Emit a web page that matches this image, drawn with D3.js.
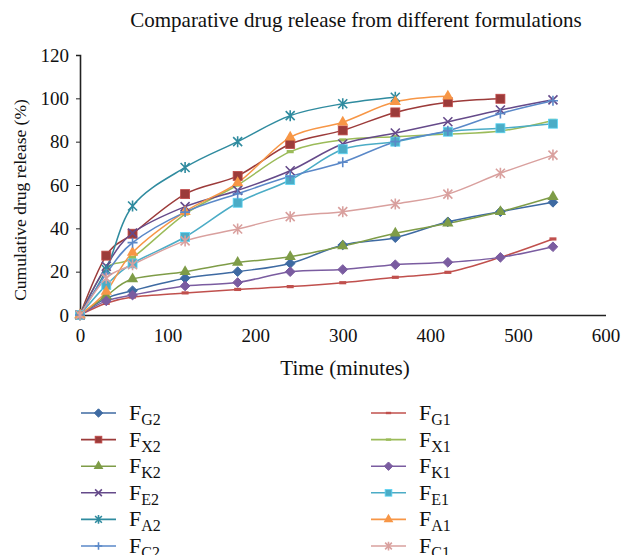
<!DOCTYPE html>
<html>
<head>
<meta charset="utf-8">
<script src="https://cdn.jsdelivr.net/npm/d3@7"></script>
<style>
  body { margin: 0; background: #fff; }
  svg, svg text { font-family: "Liberation Serif", "Times New Roman", serif; }
</style>
</head>
<body>
<div id="chart"></div>
<script>
// time points (minutes)
const times = [0, 30, 60, 120, 180, 240, 300, 360, 420, 480, 540];

// cumulative release (%) per formulation
const FG2 = [0, 7.7, 11.2, 17.0, 20.0, 23.8, 32.3, 35.7, 43.0, 47.7, 52.0];
const FG1 = [0, 5.4, 8.3, 10.2, 11.8, 13.1, 14.9, 17.4, 19.7, 26.6, 35.1];
const FX2 = [0, 27.4, 37.5, 55.8, 64.2, 78.9, 85.2, 93.5, 98.2, 99.8];
const FX1 = [0, 21.3, 26.5, 46.6, 60.0, 75.4, 80.8, 82.3, 83.5, 84.9, 89.8];
const FK2 = [0, 8.8, 16.6, 20.0, 24.2, 26.9, 31.8, 37.7, 42.3, 47.7, 54.6];
const FK1 = [0, 6.5, 9.2, 13.4, 15.0, 20.0, 21.0, 23.2, 24.3, 26.6, 31.5];
const FE2 = [0, 22.5, 37.8, 50.0, 57.5, 66.6, 78.9, 84.0, 89.2, 94.6, 99.3];
const FE1 = [0, 13.8, 23.8, 36.0, 51.8, 62.3, 76.5, 80.0, 84.6, 86.2, 88.3];
const FA2 = [0, 21.0, 50.3, 68.1, 80.0, 92.0, 97.5, 100.5];
const FA1 = [0, 10.8, 28.8, 47.7, 61.0, 82.0, 89.0, 98.4, 101.0];
const FC2 = [0, 19.0, 33.4, 47.5, 56.0, 64.0, 70.5, 80.0, 85.0, 93.0, 98.9];
const FC1 = [0, 17.0, 23.2, 34.2, 39.7, 45.4, 47.7, 51.2, 55.8, 65.4, 73.8];

const xTicks = [0, 100, 200, 300, 400, 500, 600];
const yTicks = [0, 20, 40, 60, 80, 100, 120];

const series = [
  { name: "F", sub: "G2", values: FG2, color: "#3E6AA2", marker: "diamond" },
  { name: "F", sub: "G1", values: FG1, color: "#C0504D", marker: "dash" },
  { name: "F", sub: "X2", values: FX2, color: "#9C3B3A", marker: "square" },
  { name: "F", sub: "X1", values: FX1, color: "#9BBB59", marker: "dash" },
  { name: "F", sub: "K2", values: FK2, color: "#7E9C47", marker: "triangle" },
  { name: "F", sub: "K1", values: FK1, color: "#7A5CA0", marker: "diamond" },
  { name: "F", sub: "E2", values: FE2, color: "#654A8A", marker: "x" },
  { name: "F", sub: "E1", values: FE1, color: "#4BACC6", marker: "square" },
  { name: "F", sub: "A2", values: FA2, color: "#2F8B9F", marker: "star" },
  { name: "F", sub: "A1", values: FA1, color: "#F79646", marker: "triangle" },
  { name: "F", sub: "C2", values: FC2, color: "#5A88C8", marker: "plus" },
  { name: "F", sub: "C1", values: FC1, color: "#D9A09E", marker: "star" }
];

const width = 624, height = 555;
const serif = '"Liberation Serif", "Times New Roman", serif';

const svg = d3.select("#chart").append("svg")
  .attr("width", width)
  .attr("height", height);

const x = d3.scaleLinear().domain([0, 600]).range([80, 605.5]);
const y = d3.scaleLinear().domain([0, 120]).range([315, 55]);

// title
svg.append("text")
  .attr("x", 356).attr("y", 27)
  .attr("text-anchor", "middle")
  .style("font-size", "21px")
  .attr("fill", "#111")
  .text("Comparative drug release from different formulations");

// axes
const xAxis = svg.append("g")
  .attr("transform", "translate(0," + y(0) + ")")
  .call(d3.axisBottom(x).tickValues(xTicks).tickSize(0).tickPadding(14));
const yAxis = svg.append("g")
  .attr("transform", "translate(" + x(0) + ",0)")
  .call(d3.axisLeft(y).tickValues(yTicks).tickSize(4).tickPadding(7));

[xAxis, yAxis].forEach(g => {
  g.attr("font-family", serif).attr("font-size", 19);
  g.select(".domain").attr("stroke", "#222").attr("stroke-width", 1.6);
  g.selectAll(".tick line").attr("stroke", "#222");
  g.selectAll("text").attr("fill", "#111")
    .style("font-size", "19px").style("font-family", serif);
});

svg.append("text")
  .attr("x", 345).attr("y", 375)
  .attr("text-anchor", "middle")
  .style("font-size", "21px")
  .attr("fill", "#111")
  .text("Time (minutes)");

svg.append("text")
  .attr("transform", "translate(26,200) rotate(-90)")
  .attr("text-anchor", "middle")
  .style("font-size", "17.5px")
  .attr("fill", "#111")
  .text("Cumulative drug release (%)");

// marker shapes
function drawMarker(g, type, color, s) {
  s = s || 1;
  if (type === "diamond") {
    g.append("path").attr("d", d3.symbol(d3.symbolDiamond2, 60 * s)())
      .attr("fill", color).attr("stroke", color);
  } else if (type === "square") {
    g.append("rect").attr("x", -4.5 * s).attr("y", -4.5 * s)
      .attr("width", 9 * s).attr("height", 9 * s)
      .attr("fill", color).attr("stroke", d3.color(color).brighter(0.6)).attr("stroke-width", 0.8);
  } else if (type === "triangle") {
    g.append("path").attr("d", d3.symbol(d3.symbolTriangle, 55 * s)())
      .attr("fill", color);
  } else if (type === "dash") {
    g.append("rect").attr("x", -3.5 * s).attr("y", -1.6 * s)
      .attr("width", 7 * s).attr("height", 3.2 * s).attr("fill", color);
  } else if (type === "x") {
    const r = 4.5 * s;
    g.append("path").attr("d", `M${-r},${-r}L${r},${r}M${-r},${r}L${r},${-r}`)
      .attr("stroke", color).attr("stroke-width", 1.6).attr("fill", "none");
  } else if (type === "plus") {
    const r = 5 * s;
    g.append("path").attr("d", `M${-r},0L${r},0M0,${-r}L0,${r}`)
      .attr("stroke", color).attr("stroke-width", 1.6).attr("fill", "none");
  } else if (type === "star") {
    const r = 4.5 * s;
    g.append("path").attr("d", `M${-r},${-r}L${r},${r}M${-r},${r}L${r},${-r}M0,${-r - 1}L0,${r + 1}`)
      .attr("stroke", color).attr("stroke-width", 1.6).attr("fill", "none");
  }
}

const line = d3.line()
  .x((d, i) => x(times[i]))
  .y(d => y(d))
  .curve(d3.curveCardinal.tension(0));

const plot = svg.append("g");
series.forEach(s => {
  plot.append("path")
    .datum(s.values)
    .attr("fill", "none")
    .attr("stroke", s.color)
    .attr("stroke-width", 1.5)
    .attr("d", line);
});
series.forEach(s => {
  s.values.forEach((v, i) => {
    const g = plot.append("g").attr("transform", `translate(${x(times[i])},${y(v)})`);
    drawMarker(g, s.marker, s.color);
  });
});

// legend: two columns, row-wise order
const legend = svg.append("g");
series.forEach((s, i) => {
  const col = i % 2, row = Math.floor(i / 2);
  const lx = col === 0 ? 81 : 371;
  const ly = 413 + row * 26.6;
  const g = legend.append("g").attr("transform", `translate(${lx},${ly})`);
  g.append("line").attr("x1", 0).attr("x2", 35).attr("y1", 0).attr("y2", 0)
    .attr("stroke", s.color).attr("stroke-width", 1.6);
  const m = g.append("g").attr("transform", "translate(17.5,0)");
  drawMarker(m, s.marker, s.color, 0.75);
  const t = g.append("text").attr("x", 48).attr("y", 7)
    .style("font-size", "22px").attr("fill", "#111");
  t.append("tspan").text(s.name);
  t.append("tspan").attr("dy", 5).style("font-size", "16px").text(s.sub);
});
</script>
</body>
</html>
